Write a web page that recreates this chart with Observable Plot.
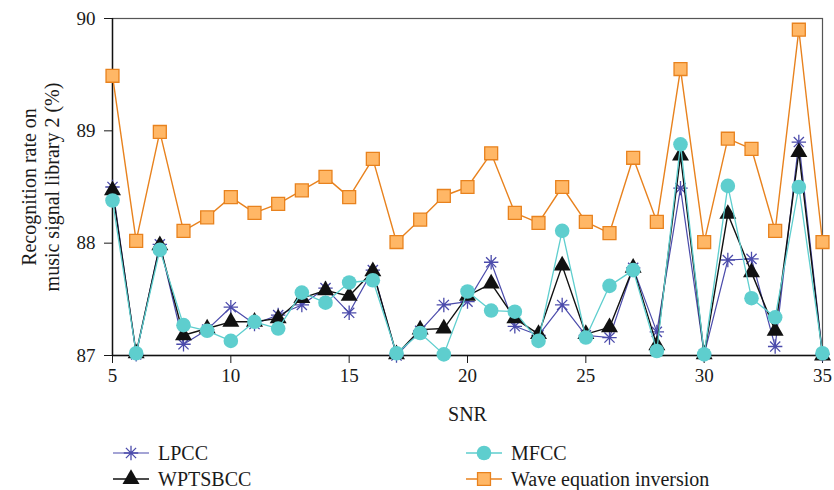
<!DOCTYPE html>
<html><head><meta charset="utf-8">
<script src="https://cdn.jsdelivr.net/npm/d3@7"></script>
<script src="https://cdn.jsdelivr.net/npm/@observablehq/plot@0.6"></script>
<style>
body{margin:0;background:#fff;font-family:"Liberation Serif","DejaVu Serif",serif;}
#wrap{position:relative;width:834px;height:490px;overflow:hidden;}
#chart svg text{font-family:"Liberation Serif","DejaVu Serif",serif !important;}
#legend{position:absolute;left:0;top:0;width:834px;height:490px;pointer-events:none;}
.item{position:absolute;display:flex;align-items:center;font-family:"Liberation Serif","DejaVu Serif",serif;font-size:20px;color:#1a1a1a;height:26px;line-height:26px;}
.item span{margin-left:9px;}
</style></head>
<body><div id="wrap"><div id="chart"></div><div id="legend"></div></div>
<script>
const snr = [5,6,7,8,9,10,11,12,13,14,15,16,17,18,19,20,21,22,23,24,25,26,27,28,29,30,31,32,33,34,35];
const lpcc = [88.50,87.01,87.99,87.10,87.23,87.43,87.28,87.36,87.45,87.60,87.38,87.76,87.00,87.22,87.45,87.48,87.83,87.26,87.18,87.45,87.18,87.16,87.78,87.21,88.49,87.01,87.85,87.86,87.08,88.90,87.01];
const wptsbcc = [88.47,87.02,87.98,87.18,87.24,87.30,87.30,87.33,87.51,87.58,87.53,87.75,87.01,87.23,87.24,87.53,87.64,87.33,87.19,87.80,87.19,87.25,87.78,87.09,88.78,87.01,88.26,87.74,87.22,88.81,87.00];
const mfcc = [88.38,87.02,87.94,87.27,87.22,87.13,87.30,87.24,87.56,87.47,87.65,87.67,87.02,87.20,87.01,87.57,87.40,87.39,87.13,88.11,87.16,87.62,87.76,87.04,88.88,87.01,88.51,87.51,87.34,88.50,87.02];
const wave = [89.49,88.02,88.99,88.11,88.23,88.41,88.27,88.35,88.47,88.59,88.41,88.75,88.01,88.21,88.42,88.50,88.80,88.27,88.18,88.50,88.19,88.09,88.76,88.19,89.55,88.01,88.93,88.84,88.11,89.90,88.01];
const xTicks = [5,10,15,20,25,30,35];
const yTicks = [87,88,89,90];
const yLabel = "Recognition rate on\nmusic signal library 2 (%)";
const xLabel = "SNR";

// 8-armed asterisk symbol
const star8 = {
  draw(context, size) {
    const r = Math.sqrt(size / Math.PI) * 0.9;
    for (let k = 0; k < 4; k++) {
      const a = k * Math.PI / 4;
      const dx = r * Math.cos(a), dy = r * Math.sin(a);
      context.moveTo(-dx, -dy);
      context.lineTo(dx, dy);
    }
  }
};

const series = [
  {name:"Wave equation inversion", values:wave, stroke:"#e8821e", fill:"#ffb766", symbol:d3.symbolSquare, r:7.3, sw:1.4, sym:1.3},
  {name:"LPCC", values:lpcc, stroke:"#4b4bab", fill:"none", symbol:star8, r:8, sw:1.2, sym:1.3},
  {name:"WPTSBCC", values:wptsbcc, stroke:"#111", fill:"#111", symbol:d3.symbolTriangle, r:6.3, sw:1.4, sym:0},
  {name:"MFCC", values:mfcc, stroke:"#5ecece", fill:"#5ecece", symbol:d3.symbolCircle, r:7.3, sw:1.3, sym:0}
];

const marks = [];
for (const s of series) {
  const data = snr.map((x,i)=>({x, y:s.values[i]}));
  marks.push(Plot.line(data,{x:"x",y:"y",stroke:s.stroke,strokeWidth:s.sw}));
  marks.push(Plot.dot(data,{x:"x",y:"y",symbol:s.symbol,r:s.r,
    fill: s.fill==="none"?"none":s.fill, stroke:s.stroke, strokeWidth:s.sym}));
}

const fmt = d => String(d);
const chart = Plot.plot({
  width:834, height:430,
  marginTop:18, marginLeft:112, marginRight:12, marginBottom:75,
  style:{fontFamily:"Liberation Serif, serif", fontSize:"19px", color:"#1a1a1a", background:"#fff", overflow:"visible"},
  x:{domain:[5,35], ticks:xTicks},
  y:{domain:[87,90], ticks:yTicks},
  marks:[
    Plot.frame({stroke:"#555", strokeWidth:1.2}),
    Plot.axisX({ticks:xTicks, tickSize:8, tickPadding:5, label:null, fontSize:19, tickFormat:fmt}),
    Plot.axisY({ticks:yTicks, tickSize:8, tickPadding:9, label:null, fontSize:19, tickFormat:fmt}),
    Plot.ruleX([5],{stroke:"#111", strokeWidth:1.4}),
    Plot.ruleY([87],{stroke:"#111", strokeWidth:1.4}),
    ...marks,
    Plot.text([xLabel],{frameAnchor:"bottom", dy:59, lineAnchor:"middle", text:d=>d, fontSize:20, fill:"#1a1a1a"}),
    Plot.text([yLabel],{frameAnchor:"left", dx:-72, rotate:-90, textAnchor:"middle", lineAnchor:"middle", text:d=>d, fontSize:20, fill:"#1a1a1a", lineHeight:1.15})
  ]
});
document.getElementById("chart").appendChild(chart);

// legend
const legendOrder = [
  {s:series[1], left:113, top:440},
  {s:series[3], left:466, top:440},
  {s:series[2], left:113, top:466},
  {s:series[0], left:466, top:466}
];
const leg = document.getElementById("legend");
for (const {s,left,top} of legendOrder) {
  const div = document.createElement("div");
  div.className="item"; div.style.left=left+"px"; div.style.top=top+"px";
  const svg = d3.create("svg").attr("width",36).attr("height",26);
  svg.append("line").attr("x1",0).attr("x2",36).attr("y1",13).attr("y2",13).attr("stroke",s.stroke).attr("stroke-width",s.sw);
  svg.append("path").attr("transform","translate(18,13)")
    .attr("d", d3.symbol(s.symbol, Math.PI*s.r*s.r)())
    .attr("fill", s.fill).attr("stroke", s.stroke)
    .attr("stroke-width", s.sym);
  div.appendChild(svg.node());
  const sp = document.createElement("span"); sp.textContent = s.name; div.appendChild(sp);
  leg.appendChild(div);
}
</script></body></html>
